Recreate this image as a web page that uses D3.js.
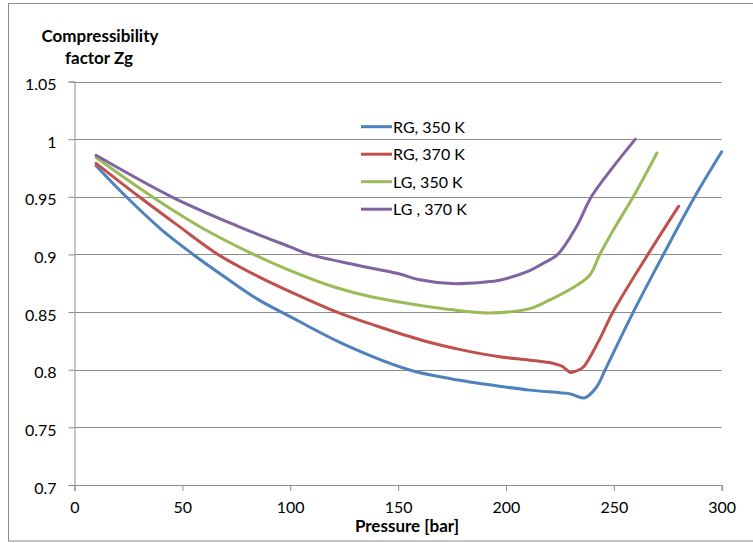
<!DOCTYPE html>
<html>
<head>
<meta charset="utf-8">
<script src="https://cdn.jsdelivr.net/npm/d3@7"></script>
<style>
  html, body { margin: 0; padding: 0; background: #fff; }
  svg { display: block; }
  text { font-family: Lato, "Open Sans", sans-serif; fill: #000; }
</style>
</head>
<body>
<svg id="chart" width="753" height="543"></svg>
<script>
// ---- Data ----
const seriesNames = ["RG, 350 K", "RG, 370 K", "LG, 350 K", "LG , 370 K"];
const seriesColors = ["#4F81BD", "#C0504D", "#9BBB59", "#8064A2"];

const rg350P = [10, 24, 40, 55, 70, 85, 100, 125, 155, 175, 197, 211, 225, 230, 236.5, 242, 246, 259, 273, 287.5, 300];
const rg350Z = [0.977, 0.95, 0.922, 0.90, 0.88, 0.861, 0.846, 0.822, 0.80, 0.792, 0.7857, 0.7823, 0.780, 0.779, 0.7756, 0.785, 0.80, 0.85, 0.90, 0.95, 0.989];

const rg370P = [10, 30, 48, 66.5, 85, 102, 121.7, 140, 161, 180, 197, 211, 222, 226, 230, 234, 236, 243, 249.6, 265.8, 280];
const rg370Z = [0.979, 0.95, 0.925, 0.90, 0.881, 0.866, 0.85, 0.838, 0.8256, 0.817, 0.8112, 0.8083, 0.8054, 0.803, 0.7976, 0.80, 0.8025, 0.825, 0.85, 0.90, 0.9417];

const lg350P = [10, 36, 60, 83, 100, 120, 138, 156, 174, 192, 211, 220, 230, 238.8, 243.5, 251, 259, 270];
const lg350Z = [0.984, 0.95, 0.922, 0.90, 0.886, 0.872, 0.863, 0.857, 0.8522, 0.8493, 0.853, 0.8603, 0.870, 0.882, 0.90, 0.925, 0.95, 0.988];

const lg370P = [10, 45, 75, 100, 109, 130, 150, 160, 175, 190, 197, 211, 217, 224, 232.6, 239.6, 249.6, 260];
const lg370Z = [0.986, 0.95, 0.925, 0.9065, 0.90, 0.891, 0.8834, 0.878, 0.8747, 0.876, 0.8776, 0.886, 0.892, 0.90, 0.9238, 0.95, 0.9757, 1.0];

const xTicks = [0, 50, 100, 150, 200, 250, 300];
const yTicks = [0.7, 0.75, 0.8, 0.85, 0.9, 0.95, 1, 1.05];
const yTitleLines = ["Compressibility", "factor Zg"];
const xTitle = "Pressure [bar]";

// ---- Layout ----
const svg = d3.select("#chart");
const plotLeft = 74.5, plotRight = 721.7, plotTop = 81.5, plotBottom = 485;

const x = d3.scaleLinear().domain([0, 300]).range([plotLeft, plotRight]);
const y = d3.scaleLinear().domain([0.7, 1.05]).range([plotBottom, plotTop]);

// outer border
svg.append("rect")
  .attr("x", 8.5).attr("y", 3.5)
  .attr("width", 760).attr("height", 537.5)
  .attr("fill", "none").attr("stroke", "#8c8c8c").attr("stroke-width", 1);

// gridlines
svg.append("g")
  .selectAll("line")
  .data(yTicks.slice(1))
  .join("line")
  .attr("x1", plotLeft).attr("x2", plotRight)
  .attr("y1", d => Math.round(y(d)) + 0.5).attr("y2", d => Math.round(y(d)) + 0.5)
  .attr("stroke", "#8c8c8c").attr("stroke-width", 1);

// y axis
const yAxis = svg.append("g")
  .attr("transform", `translate(${plotLeft},0)`)
  .call(d3.axisLeft(y).tickValues(yTicks).tickSize(6).tickPadding(12)
    .tickFormat(d => String(+d.toFixed(2))));
yAxis.select(".domain").attr("stroke", "#8c8c8c");
yAxis.selectAll(".tick line").attr("stroke", "#8c8c8c");
yAxis.selectAll(".tick text")
  .attr("font-size", 16).attr("font-family", "Lato, sans-serif")
  .attr("dy", "0.5em").attr("fill", "#000");

// x axis
const xAxis = svg.append("g")
  .attr("transform", `translate(0,${plotBottom})`)
  .call(d3.axisBottom(x).tickValues(xTicks).tickSize(6).tickPadding(11));
xAxis.select(".domain").attr("stroke", "#8c8c8c");
xAxis.selectAll(".tick line").attr("stroke", "#8c8c8c");
xAxis.selectAll(".tick text")
  .attr("font-size", 16).attr("font-family", "Lato, sans-serif").attr("fill", "#000");

// series
const allSeries = [
  rg350P.map((p, i) => [p, rg350Z[i]]),
  rg370P.map((p, i) => [p, rg370Z[i]]),
  lg350P.map((p, i) => [p, lg350Z[i]]),
  lg370P.map((p, i) => [p, lg370Z[i]])
];
const line = d3.line().x(d => x(d[0])).y(d => y(d[1])).curve(d3.curveCatmullRom.alpha(0.5));

allSeries.forEach((s, i) => {
  svg.append("path")
    .datum(s)
    .attr("d", line)
    .attr("fill", "none")
    .attr("stroke", seriesColors[i])
    .attr("stroke-width", 3)
    .attr("stroke-linejoin", "round")
    .attr("stroke-linecap", "round");
});

// legend
const legend = svg.append("g");
seriesNames.forEach((name, i) => {
  const ly = 126.7 + i * 27.5;
  legend.append("line")
    .attr("x1", 361).attr("x2", 392)
    .attr("y1", ly).attr("y2", ly)
    .attr("stroke", seriesColors[i]).attr("stroke-width", 3);
  legend.append("text")
    .attr("x", 393).attr("y", ly + 6)
    .attr("font-size", 16)
    .text(name);
});

// axis titles
svg.append("text")
  .attr("x", 100).attr("y", 42)
  .attr("text-anchor", "middle")
  .attr("font-size", 17).attr("font-weight", "bold")
  .text(yTitleLines[0]);
svg.append("text")
  .attr("x", 99).attr("y", 64)
  .attr("text-anchor", "middle")
  .attr("font-size", 17).attr("font-weight", "bold")
  .text(yTitleLines[1]);
svg.append("text")
  .attr("x", 407).attr("y", 532)
  .attr("text-anchor", "middle")
  .attr("font-size", 17).attr("font-weight", "bold")
  .text(xTitle);
</script>
</body>
</html>
